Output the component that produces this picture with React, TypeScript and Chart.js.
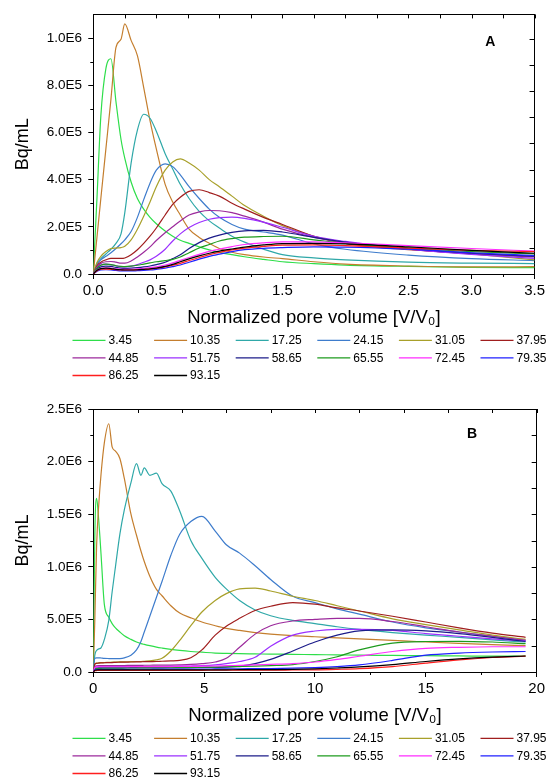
import { useEffect, useRef } from "react";
import { Chart, registerables } from "chart.js";

Chart.register(...registerables);

const FONT = "'Liberation Sans', Arial, Helvetica, sans-serif";
Chart.defaults.font.family = FONT;
Chart.defaults.color = "#000";

// ---------- shared series info ----------
const seriesLabels = ["3.45", "10.35", "17.25", "24.15", "31.05", "37.95", "44.85", "51.75", "58.65", "65.55", "72.45", "79.35", "86.25", "93.15"];
const seriesColors = ["#2ede4a", "#c47e2e", "#2fa8a8", "#3e7ccc", "#a8a02a", "#a01e1e", "#9c2a9c", "#9b30ff", "#1c1c8a", "#1e9b1e", "#ff2dff", "#2020ff", "#ff1e1e", "#000000"];

// values are in units of 1E5 Bq/mL
const UNIT = 1e5;

// ---------- panel A ----------
const xA = [0, 0.03, 0.06, 0.1, 0.14, 0.18, 0.22, 0.25, 0.3, 0.35, 0.4, 0.45, 0.5, 0.57, 0.63, 0.69, 0.76, 0.84, 0.92, 1.0, 1.1, 1.2, 1.35, 1.5, 1.75, 2.0, 2.5, 3.0, 3.5];
const a345 = [0, 3.3, 6.7, 8.7, 9.12, 7.3, 5.7, 4.9, 3.9, 3.2, 2.75, 2.4, 2.13, 1.82, 1.6, 1.43, 1.3, 1.15, 1.02, 0.92, 0.82, 0.73, 0.62, 0.52, 0.44, 0.38, 0.32, 0.28, 0.27];
const a1035 = [0, 1.6, 3.2, 5.3, 7.4, 9.6, 9.95, 10.6, 9.9, 9.25, 7.9, 6.5, 5.3, 3.8, 3.05, 2.5, 1.9, 1.55, 1.3, 1.08, 0.92, 0.82, 0.72, 0.65, 0.52, 0.42, 0.34, 0.3, 0.31];
const a1725 = [0, 0.45, 0.65, 0.85, 1.05, 1.3, 1.7, 2.6, 4.7, 6.1, 6.77, 6.6, 6.05, 5.1, 4.45, 3.8, 3.2, 2.65, 2.25, 1.95, 1.6, 1.35, 1.05, 0.82, 0.68, 0.6, 0.5, 0.46, 0.44];
const a2415 = [0, 0.4, 0.6, 0.75, 0.9, 1.08, 1.28, 1.45, 1.8, 2.4, 3.15, 3.85, 4.4, 4.67, 4.55, 4.2, 3.7, 3.2, 2.75, 2.4, 2.1, 1.9, 1.78, 1.65, 1.28, 1.05, 0.8, 0.65, 0.57];
const a3105 = [0, 0.5, 0.75, 0.95, 1.08, 1.1, 1.12, 1.18, 1.45, 1.9, 2.45, 3.05, 3.7, 4.4, 4.75, 4.88, 4.7, 4.4, 4.0, 3.7, 3.3, 2.9, 2.45, 2.05, 1.6, 1.32, 1.05, 0.85, 0.6];
const a3795 = [0, 0.35, 0.5, 0.6, 0.66, 0.66, 0.66, 0.68, 0.82, 1.03, 1.3, 1.6, 1.95, 2.5, 2.95, 3.25, 3.5, 3.57, 3.45, 3.3, 3.0, 2.75, 2.4, 2.1, 1.6, 1.3, 1.03, 0.88, 0.75];
const a4485 = [0, 0.3, 0.45, 0.52, 0.53, 0.5, 0.46, 0.46, 0.55, 0.72, 0.92, 1.15, 1.42, 1.75, 2.0, 2.25, 2.5, 2.63, 2.69, 2.68, 2.6, 2.45, 2.2, 1.9, 1.55, 1.33, 1.05, 0.85, 0.72];
const a5175 = [0, 0.25, 0.38, 0.42, 0.4, 0.35, 0.31, 0.3, 0.33, 0.4, 0.5, 0.6, 0.75, 1.05, 1.4, 1.7, 1.97, 2.18, 2.32, 2.39, 2.41, 2.36, 2.2, 1.98, 1.6, 1.38, 1.05, 0.83, 0.66];
const a5865 = [0, 0.2, 0.3, 0.33, 0.32, 0.28, 0.25, 0.24, 0.25, 0.27, 0.3, 0.34, 0.4, 0.5, 0.65, 0.82, 1.08, 1.33, 1.52, 1.65, 1.76, 1.83, 1.85, 1.78, 1.55, 1.35, 1.08, 0.88, 0.75];
const a6555 = [0, 0.25, 0.37, 0.42, 0.4, 0.35, 0.32, 0.31, 0.33, 0.37, 0.42, 0.47, 0.52, 0.57, 0.62, 0.72, 0.9, 1.1, 1.25, 1.4, 1.5, 1.56, 1.59, 1.6, 1.45, 1.3, 1.1, 0.95, 0.85];
const a7245 = [0, 0.17, 0.24, 0.26, 0.25, 0.22, 0.2, 0.2, 0.2, 0.22, 0.24, 0.27, 0.3, 0.38, 0.47, 0.58, 0.7, 0.83, 0.96, 1.05, 1.16, 1.25, 1.32, 1.36, 1.36, 1.32, 1.2, 1.08, 0.97];
const a7935 = [0, 0.12, 0.17, 0.18, 0.17, 0.15, 0.13, 0.13, 0.13, 0.14, 0.15, 0.17, 0.2, 0.25, 0.31, 0.38, 0.5, 0.63, 0.75, 0.84, 0.95, 1.03, 1.09, 1.12, 1.15, 1.14, 1.05, 0.9, 0.78];
const a8625 = [0, 0.14, 0.2, 0.21, 0.2, 0.18, 0.17, 0.17, 0.17, 0.18, 0.19, 0.21, 0.24, 0.3, 0.37, 0.45, 0.57, 0.7, 0.82, 0.92, 1.02, 1.1, 1.17, 1.22, 1.23, 1.2, 1.1, 1.0, 0.95];
const a9315 = [0, 0.16, 0.23, 0.25, 0.23, 0.2, 0.18, 0.17, 0.17, 0.18, 0.2, 0.22, 0.25, 0.32, 0.41, 0.52, 0.64, 0.77, 0.88, 0.97, 1.06, 1.14, 1.23, 1.29, 1.3, 1.28, 1.15, 1.0, 0.88];
const seriesA = [a345, a1035, a1725, a2415, a3105, a3795, a4485, a5175, a5865, a6555, a7245, a7935, a8625, a9315];
const xTickLabelsA = ["0.0", "0.5", "1.0", "1.5", "2.0", "2.5", "3.0", "3.5"];
const yTickValuesA = [0, 2e5, 4e5, 6e5, 8e5, 1e6];
const yTickLabelsA = ["0.0", "2.0E5", "4.0E5", "6.0E5", "8.0E5", "1.0E6"];

// ---------- panel B ----------
const xB = [0, 0.07, 0.15, 0.25, 0.35, 0.5, 0.7, 0.85, 1.0, 1.2, 1.4, 1.7, 1.95, 2.15, 2.3, 2.55, 2.85, 3.1, 3.5, 3.9, 4.4, 4.9, 5.5, 6.0, 6.6, 7.3, 8.0, 9.0, 10, 11, 12, 13.5, 15, 16.5, 18, 19.5];
const b345 = [0, 13, 16.5, 14.3, 11.2, 6.4, 5.2, 4.6, 4.2, 3.8, 3.45, 3.1, 2.85, 2.7, 2.62, 2.5, 2.37, 2.28, 2.15, 2.05, 1.95, 1.88, 1.8, 1.77, 1.74, 1.72, 1.7, 1.68, 1.65, 1.63, 1.6, 1.58, 1.55, 1.53, 1.5, 1.5];
const b1035 = [0, 5, 12, 16, 18.8, 21.8, 23.6, 21.4, 21.0, 20.3, 18.4, 15.0, 13.0, 11.5, 10.5, 9.1, 7.85, 7.25, 6.3, 5.6, 5.15, 4.75, 4.4, 4.15, 3.95, 3.75, 3.6, 3.45, 3.35, 3.25, 3.15, 3.0, 2.85, 2.72, 2.6, 2.5];
const b1725 = [0, 1.6, 2.05, 2.2, 2.3, 3.1, 4.9, 7.6, 10.0, 13.1, 15.4, 18.0, 19.8, 18.7, 19.4, 18.7, 18.9, 17.9, 17.2, 15.3, 12.5, 10.8, 9.0, 7.9, 6.8, 5.9, 5.35, 4.9, 4.6, 4.3, 4.05, 3.75, 3.5, 3.3, 3.05, 2.85];
const b2415 = [0, 1.3, 1.35, 1.35, 1.33, 1.3, 1.28, 1.27, 1.27, 1.28, 1.35, 1.6, 2.1, 2.9, 3.8, 5.3, 7.1, 8.6, 11.1, 13.1, 14.3, 14.8, 13.4, 12.1, 11.3, 10.1, 8.8, 7.2, 6.6, 6.0, 5.5, 4.75, 4.2, 3.8, 3.4, 3.0];
const b3105 = [0, 0.75, 0.85, 0.88, 0.9, 0.9, 0.92, 0.93, 0.95, 0.96, 0.97, 0.98, 1.0, 1.0, 1.02, 1.05, 1.15, 1.3, 2.0, 3.0, 4.4, 5.7, 6.8, 7.45, 7.9, 7.98, 7.7, 7.2, 6.8, 6.3, 5.8, 5.05, 4.5, 4.0, 3.5, 3.1];
const b3795 = [0, 0.75, 0.82, 0.85, 0.87, 0.88, 0.9, 0.9, 0.92, 0.93, 0.94, 0.95, 0.96, 0.97, 0.98, 0.99, 1.0, 1.02, 1.05, 1.1, 1.35, 2.1, 3.5, 4.35, 5.1, 5.85, 6.25, 6.6, 6.45, 6.1, 5.8, 5.3, 4.75, 4.2, 3.7, 3.3];
const b4485 = [0, 0.5, 0.58, 0.6, 0.6, 0.6, 0.61, 0.61, 0.62, 0.62, 0.62, 0.63, 0.63, 0.63, 0.64, 0.64, 0.65, 0.65, 0.66, 0.68, 0.72, 0.8, 0.95, 1.3, 2.35, 3.6, 4.4, 4.85, 5.0, 5.1, 5.1, 4.8, 4.3, 3.8, 3.4, 3.0];
const b5175 = [0, 0.4, 0.48, 0.5, 0.5, 0.5, 0.5, 0.51, 0.51, 0.51, 0.51, 0.52, 0.52, 0.52, 0.52, 0.52, 0.52, 0.52, 0.53, 0.55, 0.57, 0.6, 0.68, 0.8, 1.0, 1.4, 2.45, 3.5, 3.9, 4.05, 4.05, 3.95, 3.65, 3.4, 3.15, 2.95];
const b5865 = [0, 0.3, 0.38, 0.4, 0.4, 0.4, 0.4, 0.4, 0.4, 0.4, 0.4, 0.41, 0.41, 0.41, 0.41, 0.41, 0.41, 0.42, 0.42, 0.42, 0.42, 0.43, 0.44, 0.46, 0.55, 0.8, 1.2, 2.0, 2.85, 3.5, 3.9, 4.0, 3.9, 3.65, 3.3, 2.9];
const b6555 = [0, 0.28, 0.33, 0.35, 0.35, 0.36, 0.36, 0.37, 0.37, 0.37, 0.38, 0.38, 0.38, 0.39, 0.39, 0.39, 0.4, 0.4, 0.41, 0.42, 0.43, 0.45, 0.47, 0.5, 0.52, 0.55, 0.6, 0.7, 1.0, 1.45, 2.1, 2.75, 2.9, 2.92, 2.85, 2.7];
const b7245 = [0, 0.4, 0.48, 0.5, 0.5, 0.5, 0.5, 0.5, 0.5, 0.5, 0.5, 0.51, 0.51, 0.51, 0.51, 0.51, 0.52, 0.52, 0.52, 0.53, 0.54, 0.55, 0.57, 0.6, 0.63, 0.67, 0.72, 0.8, 0.95, 1.2, 1.5, 1.95, 2.25, 2.35, 2.4, 2.4];
const b7935 = [0, 0.2, 0.24, 0.25, 0.25, 0.25, 0.25, 0.25, 0.25, 0.25, 0.25, 0.26, 0.26, 0.26, 0.26, 0.26, 0.27, 0.27, 0.27, 0.27, 0.28, 0.28, 0.29, 0.3, 0.31, 0.32, 0.33, 0.36, 0.42, 0.52, 0.68, 1.1, 1.6, 1.8, 1.9, 1.95];
const b8625 = [0, 0.12, 0.14, 0.15, 0.15, 0.15, 0.15, 0.15, 0.15, 0.15, 0.15, 0.15, 0.15, 0.15, 0.15, 0.15, 0.15, 0.15, 0.16, 0.16, 0.16, 0.16, 0.17, 0.17, 0.17, 0.18, 0.18, 0.19, 0.2, 0.25, 0.32, 0.52, 0.85, 1.15, 1.38, 1.5];
const b9315 = [0, 0.16, 0.19, 0.2, 0.2, 0.2, 0.2, 0.2, 0.2, 0.2, 0.2, 0.2, 0.2, 0.2, 0.2, 0.2, 0.2, 0.2, 0.2, 0.2, 0.2, 0.2, 0.21, 0.21, 0.22, 0.22, 0.23, 0.25, 0.3, 0.38, 0.48, 0.7, 1.0, 1.25, 1.42, 1.52];
const seriesB = [b345, b1035, b1725, b2415, b3105, b3795, b4485, b5175, b5865, b6555, b7245, b7935, b8625, b9315];
const xTickLabelsB = ["0", "5", "10", "15", "20"];
const yTickValuesB = [0, 5e5, 1e6, 1.5e6, 2e6, 2.5e6];
const yTickLabelsB = ["0.0", "5.0E5", "1.0E6", "1.5E6", "2.0E6", "2.5E6"];

const xTitle = "Normalized pore volume [V/V\u2080]";
const yTitle = "Bq/mL";

// ---------- decoration plugin: minor ticks, inward mirror ticks, panel letter, legend ----------
const decorPlugin = {
  id: "decor",
  afterDraw(chart: any, _args: any, opts: any) {
    const { ctx, chartArea } = chart;
    const { left, right, top, bottom } = chartArea;
    const sx = chart.scales.x, sy = chart.scales.y, sx2 = chart.scales.x2, sy2 = chart.scales.y2;
    ctx.save();
    ctx.strokeStyle = "#000";
    ctx.lineWidth = 1;
    ctx.beginPath();
    const xt = sx.ticks;
    for (let i = 0; i < xt.length - 1; i++) {
      const p = Math.round(sx.getPixelForValue((xt[i].value + xt[i + 1].value) / 2)) + 0.5;
      ctx.moveTo(p, bottom);
      ctx.lineTo(p, bottom + 3);
    }
    const yt = sy.ticks;
    for (let i = 0; i < yt.length - 1; i++) {
      const p = Math.round(sy.getPixelForValue((yt[i].value + yt[i + 1].value) / 2)) + 0.5;
      ctx.moveTo(left, p);
      ctx.lineTo(left - 3, p);
    }
    if (opts.minorPastLast) {
      const n = yt.length;
      const v = yt[n - 1].value + (yt[n - 1].value - yt[n - 2].value) / 2;
      if (v < sy.max) {
        const p = Math.round(sy.getPixelForValue(v)) + 0.5;
        ctx.moveTo(left, p);
        ctx.lineTo(left - 3, p);
      }
    }
    for (const t of sx2.ticks) {
      const p = Math.round(sx2.getPixelForValue(t.value)) + 0.5;
      ctx.moveTo(p, top);
      ctx.lineTo(p, top + 4);
    }
    for (const t of sy2.ticks) {
      const p = Math.round(sy2.getPixelForValue(t.value)) + 0.5;
      ctx.moveTo(right, p);
      ctx.lineTo(right - 5, p);
    }
    ctx.stroke();

    ctx.fillStyle = "#000";
    ctx.font = `bold 14px ${FONT}`;
    ctx.textAlign = "center";
    ctx.textBaseline = "middle";
    ctx.fillText(opts.letter, right - opts.letterDx, top + opts.letterDy);

    ctx.font = `12px ${FONT}`;
    ctx.textAlign = "left";
    chart.data.datasets.forEach((ds: any, i: number) => {
      const col = i % 6;
      const row = Math.floor(i / 6);
      const x = 72.5 + col * 81.6;
      const y = bottom + 66.3 + row * 17.6;
      ctx.strokeStyle = ds.borderColor;
      ctx.lineWidth = 1.3;
      ctx.beginPath();
      ctx.moveTo(x, y);
      ctx.lineTo(x + 33, y);
      ctx.stroke();
      ctx.fillStyle = "#000";
      ctx.fillText(ds.label, x + 36, y + 0.5);
    });
    ctx.restore();
  },
};

function makeConfig(p: any) {
  const datasets = p.series.map((ys: number[], i: number) => ({
    label: seriesLabels[i],
    data: p.x.map((x: number, j: number) => ({ x, y: ys[j] * UNIT })),
    borderColor: seriesColors[i],
    backgroundColor: seriesColors[i],
    borderWidth: 1.2,
    pointRadius: 0,
    cubicInterpolationMode: "monotone",
    order: p.series.length - i,
  }));
  const frame = { display: true, color: "#000", width: 1 };
  return {
    type: "line",
    data: { datasets },
    plugins: [decorPlugin],
    options: {
      responsive: false,
      animation: false,
      events: [],
      layout: { padding: p.padding },
      plugins: {
        legend: { display: false },
        tooltip: { enabled: false },
        decor: { letter: p.letter, letterDx: p.letterDx, letterDy: p.letterDy, minorPastLast: p.minorPastLast },
      },
      scales: {
        x: {
          type: "linear",
          position: "bottom",
          min: p.xMin,
          max: p.xMax,
          ticks: {
            stepSize: p.xStep,
            includeBounds: false,
            autoSkip: false,
            maxRotation: 0,
            padding: 3,
            color: "#000",
            font: { size: 15 },
            callback: (_v: any, i: number) => p.xTickLabels[i],
          },
          grid: { drawOnChartArea: false, drawTicks: true, tickLength: 5, tickColor: "#000", tickWidth: 1 },
          border: frame,
          title: { display: true, text: xTitle, color: "#000", font: { size: 18.5 }, padding: { top: 4.2, bottom: 0 } },
        },
        y: {
          type: "linear",
          position: "left",
          min: 0,
          max: p.yMax,
          afterBuildTicks: (scale: any) => {
            scale.ticks = p.yTickValues.map((v: number) => ({ value: v }));
          },
          ticks: {
            autoSkip: false,
            padding: 6.3,
            color: "#000",
            font: { size: 13.5 },
            callback: (_v: any, i: number) => p.yTickLabels[i],
          },
          grid: { drawOnChartArea: false, drawTicks: true, tickLength: 5, tickColor: "#000", tickWidth: 1 },
          border: frame,
          title: { display: true, text: yTitle, color: "#000", font: { size: 18 }, padding: { top: 8.5, bottom: 6.3 } },
        },
        x2: {
          type: "linear",
          position: "top",
          min: p.xMin,
          max: p.xMax,
          ticks: { display: false, stepSize: p.x2Step, includeBounds: false },
          grid: { drawOnChartArea: false, drawTicks: false },
          border: frame,
        },
        y2: {
          type: "linear",
          position: "right",
          min: 0,
          max: p.y2Max,
          ticks: { display: false, stepSize: p.y2Step, includeBounds: false },
          grid: { drawOnChartArea: false, drawTicks: false },
          border: frame,
        },
      },
    },
  };
}

const panelA = {
  x: xA, series: seriesA, xMin: 0, xMax: 3.5, xStep: 0.5, x2Step: 0.25,
  yMax: 1.1e6, y2Max: 9.943, y2Step: 1,
  xTickLabels: xTickLabelsA, yTickValues: yTickValuesA, yTickLabels: yTickLabelsA,
  letter: "A", letterDx: 44.3, letterDy: 28, minorPastLast: false,
  padding: { left: 4, top: 12, right: 12, bottom: 60.6 },
};
const panelB = {
  x: xB, series: seriesB, xMin: 0, xMax: 20, xStep: 5, x2Step: 2,
  yMax: 2.5e6, y2Max: 10, y2Step: 1,
  xTickLabels: xTickLabelsB, yTickValues: yTickValuesB, yTickLabels: yTickLabelsB,
  letter: "B", letterDx: 64.5, letterDy: 25.5, minorPastLast: false,
  padding: { left: 4, top: 19, right: 11, bottom: 51.6 },
};

function Panel({ panel, height }: { panel: any; height: number }) {
  const ref = useRef<HTMLCanvasElement>(null);
  useEffect(() => {
    const chart = new Chart(ref.current as HTMLCanvasElement, makeConfig(panel) as any);
    return () => chart.destroy();
  }, [panel]);
  return <canvas ref={ref} width={548} height={height} style={{ display: "block", width: 548, height }} />;
}

export default function App() {
  return (
    <div style={{ position: "absolute", left: 0, top: 0, width: 548, height: 779, background: "#fff", overflow: "hidden" }}>
      <Panel panel={panelA} height={390} />
      <Panel panel={panelB} height={389} />
    </div>
  );
}
